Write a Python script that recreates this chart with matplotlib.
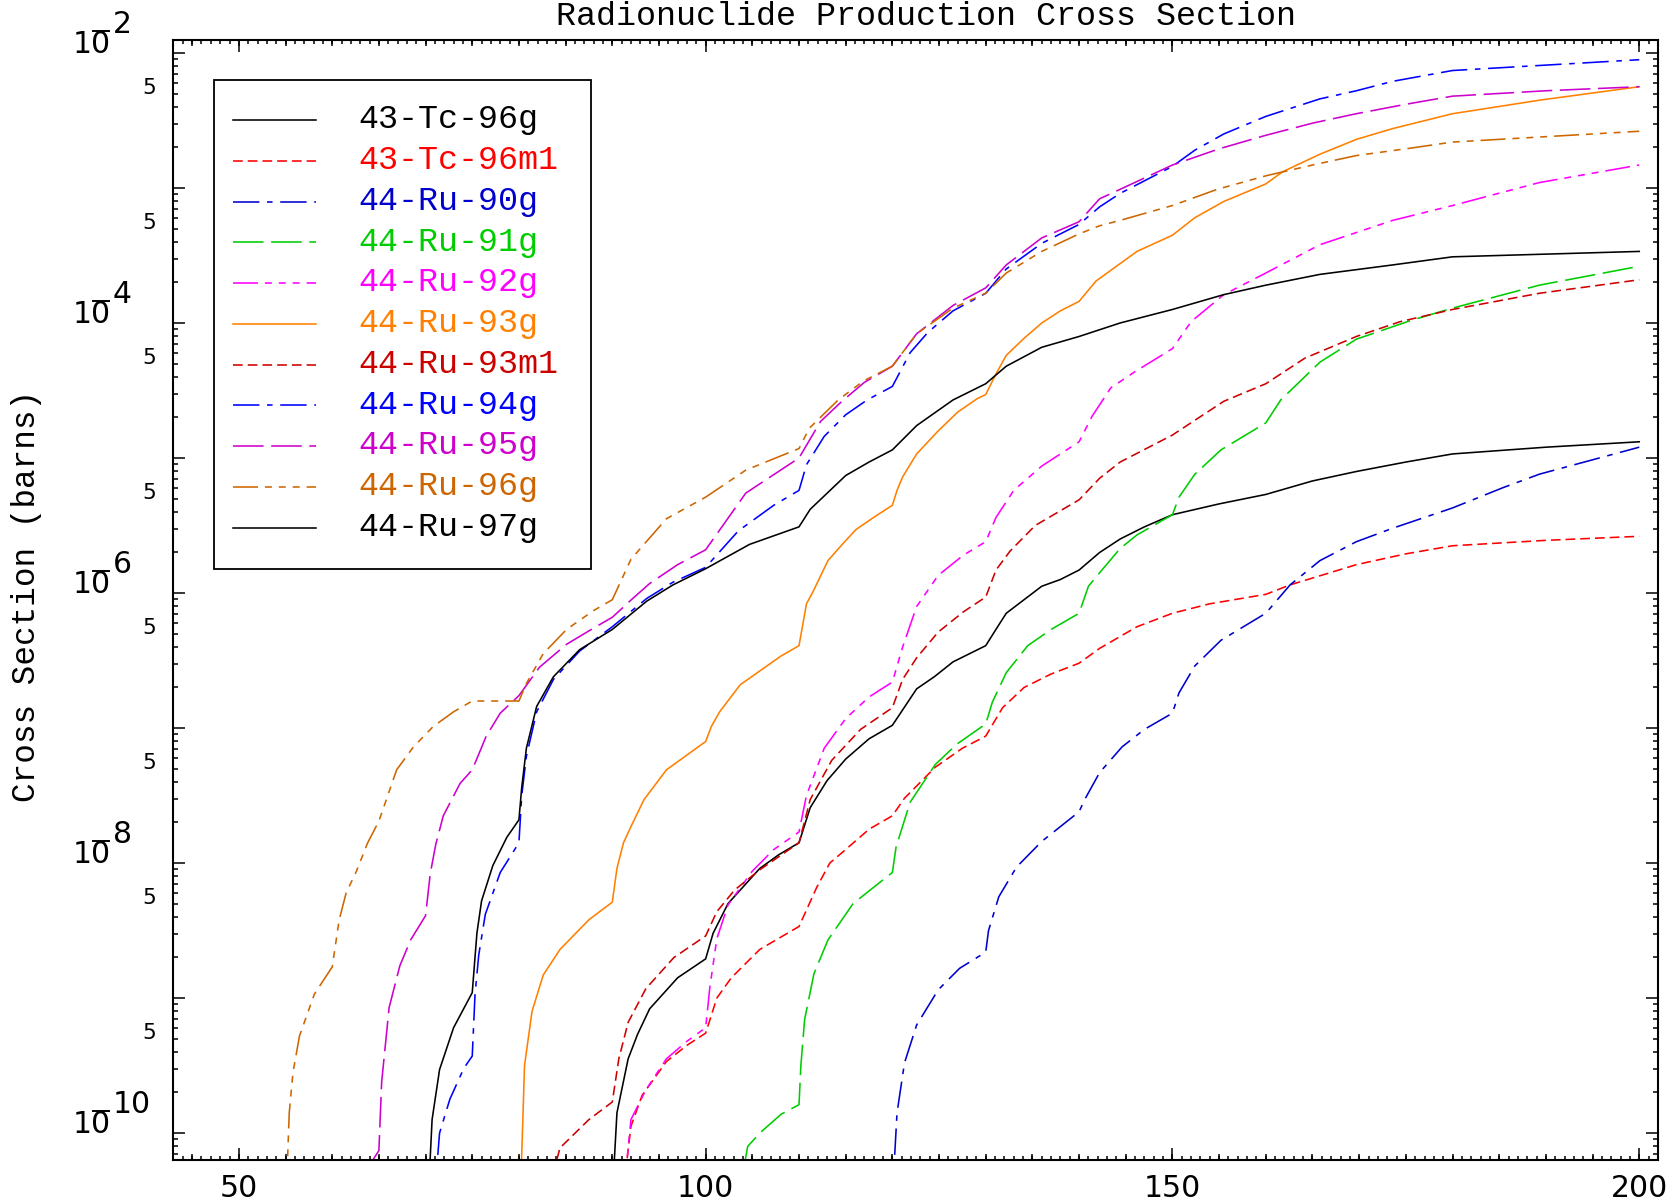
import numpy as np
import matplotlib
matplotlib.use("Agg")
import matplotlib.pyplot as plt
import matplotlib.transforms as mtransforms
from matplotlib.lines import Line2D
from matplotlib.patches import Rectangle
from matplotlib.ticker import FixedLocator, MultipleLocator, LogLocator, NullFormatter, NullLocator

plt.rcParams["lines.scale_dashes"] = False

# ----------------------------
# data: energy (MeV) and log10 of cross section (barns)
# ----------------------------
e_tc96g = [89.9, 90.5, 91.7, 92.7, 94.0, 97.0, 100.0, 100.8, 102.4, 105.8, 107.8, 110.0, 111.2, 113.0, 115.0,
           117.5, 120.0, 122.6, 124.5, 126.5, 130.0, 131.0, 132.2, 136.0, 138.0, 140.0, 142.2, 144.4, 147.0,
           150.0, 155.0, 160.0, 165.0, 169.7, 175.0, 180.0, 190.0, 200.0]
lg_tc96g = [-10.6, -9.85, -9.45, -9.27, -9.08, -8.85, -8.71, -8.52, -8.30, -8.04, -7.94, -7.85, -7.59, -7.39, -7.23,
            -7.08, -6.98, -6.71, -6.62, -6.51, -6.39, -6.28, -6.15, -5.95, -5.90, -5.83, -5.70, -5.60, -5.51,
            -5.42, -5.34, -5.27, -5.17, -5.10, -5.03, -4.97, -4.92, -4.88]

e_tc96m1 = [90.9, 92.0, 93.2, 95.8, 98.0, 100.0, 101.2, 102.75, 105.8, 110.0, 111.9, 113.3, 115.0, 117.5, 120.0,
            121.3, 124.6, 127.5, 130.0, 131.8, 134.1, 137.0, 140.0, 142.2, 146.2, 150.0, 154.0, 160.0, 162.6,
            169.7, 175.0, 180.0, 190.0, 200.0]
lg_tc96m1 = [-10.6, -9.95, -9.72, -9.47, -9.35, -9.26, -9.00, -8.85, -8.64, -8.47, -8.18, -8.00, -7.90, -7.75, -7.65,
             -7.52, -7.29, -7.15, -7.06, -6.85, -6.70, -6.60, -6.52, -6.41, -6.25, -6.15, -6.08, -6.01, -5.94,
             -5.79, -5.71, -5.65, -5.61, -5.58]

e_ru90g = [119.9, 120.5, 121.3, 122.6, 124.9, 127.2, 130.0, 130.3, 131.4, 133.3, 136.0, 140.0, 140.6, 142.2,
           144.6, 147.0, 150.0, 150.7, 152.4, 155.2, 160.0, 162.6, 165.8, 169.7, 173.6, 180.0, 185.4, 189.3, 200.0]
lg_ru90g = [-10.6, -9.85, -9.48, -9.20, -8.94, -8.78, -8.66, -8.50, -8.25, -8.03, -7.84, -7.62, -7.53, -7.33,
            -7.14, -7.01, -6.89, -6.74, -6.54, -6.35, -6.15, -5.94, -5.76, -5.62, -5.52, -5.37, -5.22, -5.12, -4.92]

e_ru91g = [103.2, 104.5, 105.8, 108.1, 110.0, 110.2, 110.6, 111.6, 113.1, 115.8, 120.0, 120.4, 121.9, 124.6,
           126.9, 130.0, 130.7, 132.2, 134.5, 137.0, 140.0, 141.0, 142.2, 144.4, 146.2, 150.0, 150.7, 152.4,
           155.2, 160.0, 161.6, 165.8, 169.7, 175.6, 180.0, 189.3, 200.0]
lg_ru91g = [-10.6, -10.1, -10.0, -9.86, -9.79, -9.50, -9.16, -8.82, -8.57, -8.30, -8.07, -7.88, -7.55, -7.27,
            -7.12, -6.97, -6.81, -6.59, -6.39, -6.27, -6.15, -5.95, -5.85, -5.67, -5.57, -5.42, -5.29, -5.12,
            -4.94, -4.74, -4.57, -4.29, -4.12, -3.98, -3.89, -3.72, -3.58]

e_ru92g = [91.0, 92.0, 93.6, 95.8, 98.0, 100.0, 100.45, 101.2, 102.4, 105.0, 107.3, 110.0, 110.8, 112.7,
           115.0, 117.5, 120.0, 121.1, 122.6, 124.9, 127.6, 130.0, 131.1, 133.0, 136.0, 140.0, 141.4, 143.4,
           146.0, 150.0, 152.0, 155.5, 160.0, 165.8, 173.6, 180.0, 189.3, 200.0]
lg_ru92g = [-10.6, -9.90, -9.68, -9.45, -9.32, -9.22, -8.92, -8.56, -8.31, -8.06, -7.90, -7.77, -7.50, -7.15,
            -6.93, -6.77, -6.66, -6.40, -6.10, -5.87, -5.72, -5.62, -5.44, -5.24, -5.06, -4.88, -4.69, -4.48,
            -4.36, -4.19, -3.99, -3.79, -3.63, -3.42, -3.24, -3.13, -2.96, -2.83]

e_ru93g = [80.1, 80.6, 81.4, 82.6, 84.4, 87.5, 90.0, 90.5, 91.2, 92.0, 93.4, 95.8, 100.0, 100.6, 101.5, 103.7,
           108.0, 110.0, 110.8, 111.5, 113.1, 114.5, 116.1, 118.0, 120.0, 120.5, 121.1, 122.6, 124.9, 127.0,
           129.1, 130.0, 131.0, 132.2, 134.0, 136.0, 138.0, 140.0, 141.8, 144.2, 146.2, 150.0, 152.4, 155.5,
           160.0, 161.8, 165.8, 169.7, 173.6, 180.0, 189.3, 200.0]
lg_ru93g = [-10.6, -9.50, -9.10, -8.83, -8.64, -8.42, -8.29, -8.04, -7.85, -7.73, -7.53, -7.31, -7.10, -6.99,
            -6.88, -6.68, -6.47, -6.39, -6.08, -5.99, -5.76, -5.65, -5.53, -5.44, -5.35, -5.24, -5.14, -4.97,
            -4.80, -4.66, -4.56, -4.53, -4.39, -4.24, -4.12, -4.00, -3.91, -3.84, -3.69, -3.57, -3.47, -3.35,
            -3.22, -3.10, -2.97, -2.88, -2.75, -2.64, -2.56, -2.45, -2.35, -2.25]

e_ru93m1 = [82.5, 84.4, 87.5, 90.0, 90.7, 91.7, 93.6, 96.6, 100.0, 101.2, 103.1, 105.8, 110.0, 111.2, 113.5,
            116.6, 120.0, 121.1, 122.6, 124.9, 127.6, 130.0, 131.1, 132.6, 135.3, 140.0, 142.2, 144.4, 150.0,
            155.5, 160.0, 164.2, 169.7, 174.4, 180.0, 189.3, 200.0]
lg_ru93m1 = [-10.6, -10.11, -9.90, -9.77, -9.45, -9.18, -8.93, -8.70, -8.54, -8.36, -8.20, -8.05, -7.85, -7.53,
             -7.24, -7.01, -6.85, -6.64, -6.48, -6.29, -6.14, -6.03, -5.83, -5.69, -5.50, -5.31, -5.15, -5.03,
             -4.83, -4.58, -4.45, -4.26, -4.10, -3.99, -3.90, -3.78, -3.68]

e_ru94g = [70.8, 71.5, 72.6, 74.1, 75.0, 75.3, 75.7, 76.4, 78.0, 80.0, 80.3, 80.8, 81.9, 83.7, 86.5, 90.0,
           93.7, 96.5, 100.0, 103.5, 107.3, 110.0, 110.8, 112.7, 115.0, 117.3, 120.0, 121.9, 123.8, 126.5,
           130.0, 132.2, 136.0, 140.0, 142.2, 144.4, 150.0, 152.4, 155.5, 160.0, 165.8, 169.7, 173.6, 180.0,
           190.0, 200.0]
lg_ru94g = [-10.6, -10.0, -9.75, -9.52, -9.43, -8.97, -8.68, -8.38, -8.07, -7.85, -7.50, -7.21, -6.88, -6.64,
            -6.43, -6.25, -6.04, -5.92, -5.81, -5.54, -5.35, -5.24, -5.05, -4.84, -4.68, -4.57, -4.47, -4.22,
            -4.07, -3.91, -3.78, -3.60, -3.41, -3.27, -3.14, -3.04, -2.84, -2.72, -2.60, -2.47, -2.34, -2.28,
            -2.21, -2.13, -2.09, -2.05]

e_ru95g = [64.1, 64.35, 65.0, 65.3, 66.1, 67.25, 68.4, 70.0, 70.5, 71.1, 71.9, 73.7, 75.0, 76.5, 78.0, 80.0,
           82.2, 85.1, 88.0, 90.0, 92.2, 94.0, 97.0, 100.0, 104.3, 110.0, 112.3, 114.6, 117.0, 120.0, 122.6,
           126.5, 130.0, 132.2, 136.0, 140.0, 142.2, 144.4, 150.0, 155.0, 160.0, 165.0, 169.7, 175.0, 180.0,
           190.0, 200.0]
lg_ru95g = [-10.6, -10.2, -10.13, -9.62, -9.07, -8.76, -8.57, -8.39, -8.08, -7.86, -7.65, -7.41, -7.31, -7.06,
            -6.89, -6.76, -6.55, -6.38, -6.26, -6.18, -6.04, -5.93, -5.79, -5.68, -5.26, -5.00, -4.73, -4.58,
            -4.44, -4.32, -4.08, -3.87, -3.74, -3.57, -3.37, -3.25, -3.08, -3.01, -2.83, -2.71, -2.61, -2.52,
            -2.45, -2.38, -2.32, -2.28, -2.25]

e_ru96g = [55.0, 55.4, 55.8, 56.5, 58.1, 60.0, 60.75, 61.5, 62.6, 63.8, 65.0, 66.9, 68.7, 70.8, 73.0, 75.0,
           80.0, 80.8, 82.6, 85.1, 88.0, 90.0, 92.0, 95.8, 100.0, 104.3, 110.0, 111.1, 114.2, 116.9, 120.0,
           122.6, 126.5, 130.0, 132.2, 136.0, 140.0, 142.2, 144.4, 150.0, 154.8, 160.0, 165.0, 169.7, 175.0,
           180.0, 190.0, 200.0]
lg_ru96g = [-10.6, -9.85, -9.55, -9.28, -8.97, -8.77, -8.42, -8.22, -8.06, -7.85, -7.69, -7.31, -7.14, -6.99,
            -6.88, -6.80, -6.80, -6.67, -6.45, -6.27, -6.13, -6.05, -5.75, -5.45, -5.29, -5.09, -4.93, -4.78,
            -4.57, -4.43, -4.32, -4.08, -3.89, -3.78, -3.63, -3.47, -3.34, -3.28, -3.24, -3.13, -3.01, -2.91,
            -2.83, -2.76, -2.71, -2.66, -2.62, -2.58]

e_ru97g = [70.2, 70.7, 71.5, 73.0, 75.0, 75.5, 76.0, 77.2, 78.7, 80.0, 80.3, 80.8, 81.9, 83.7, 86.5, 90.0,
           93.7, 96.5, 100.0, 104.7, 110.0, 111.2, 115.0, 117.5, 120.0, 122.6, 126.5, 130.0, 132.2, 136.0,
           140.0, 144.4, 150.0, 155.5, 160.0, 165.8, 173.6, 180.0, 200.0]
lg_ru97g = [-10.6, -9.90, -9.53, -9.22, -8.96, -8.52, -8.28, -8.02, -7.81, -7.68, -7.44, -7.15, -6.84, -6.62,
            -6.42, -6.27, -6.06, -5.94, -5.82, -5.64, -5.51, -5.38, -5.13, -5.03, -4.94, -4.76, -4.57, -4.45,
            -4.32, -4.18, -4.10, -4.00, -3.90, -3.79, -3.72, -3.64, -3.57, -3.51, -3.47]

labels = ["43-Tc-96g", "43-Tc-96m1", "44-Ru-90g", "44-Ru-91g", "44-Ru-92g", "44-Ru-93g",
          "44-Ru-93m1", "44-Ru-94g", "44-Ru-95g", "44-Ru-96g", "44-Ru-97g"]
energies = [e_tc96g, e_tc96m1, e_ru90g, e_ru91g, e_ru92g, e_ru93g, e_ru93m1, e_ru94g, e_ru95g, e_ru96g, e_ru97g]
logxs = [lg_tc96g, lg_tc96m1, lg_ru90g, lg_ru91g, lg_ru92g, lg_ru93g, lg_ru93m1, lg_ru94g, lg_ru95g, lg_ru96g, lg_ru97g]

# ----------------------------
# styles
# ----------------------------
solid = "-"
dashed = (0, (7.0, 3.6))
dashdot = (0, (19.0, 5.5, 4.0, 5.5))
longdash = (0, (22.0, 5.5))
dash3dot = (0, (18.0, 5.0, 5.0, 5.0, 5.0, 5.0, 5.0, 5.0))

colors = ["#000000", "#ff0000", "#0000cd", "#00cd00", "#ff00ff", "#ff8000",
          "#cd0000", "#0000ff", "#cd00cd", "#cd6600", "#000000"]
styles = [solid, dashed, dashdot, longdash, dash3dot, solid,
          dashed, dashdot, longdash, dash3dot, solid]

mono = "Liberation Mono"
sans = "DejaVu Sans"
tick_fs = 21.5

fig = plt.figure(figsize=(16.74, 12.01), dpi=100)
ax = fig.add_axes([0.1033, 0.0341, 0.8871, 0.9326])
ax.set_yscale("log")

for e, lg, c, ls in zip(energies, logxs, colors, styles):
    ax.plot(e, 10.0 ** np.array(lg), color=c, linestyle=ls, linewidth=1.15)

ax.set_xlim(42.94, 202.0)
ax.set_ylim(10 ** -10.2, 10 ** -1.904)

for sp in ax.spines.values():
    sp.set_linewidth(1.5)

# ticks
ax.xaxis.set_major_locator(FixedLocator([50, 100, 150, 200]))
ax.xaxis.set_minor_locator(MultipleLocator(1))
ax.yaxis.set_major_locator(LogLocator(base=10, numticks=30))
ax.yaxis.set_minor_locator(LogLocator(base=10, subs=np.arange(2, 10), numticks=30))
ax.yaxis.set_major_formatter(NullFormatter())
ax.yaxis.set_minor_formatter(NullFormatter())
ax.tick_params(which="both", direction="in", top=True, right=True, width=1.1)
ax.tick_params(axis="x", which="major", length=8.6, labelsize=tick_fs, pad=10.0)
ax.tick_params(axis="x", which="minor", length=2.9)
ax.tick_params(axis="y", which="major", length=8.6)
ax.tick_params(axis="y", which="minor", length=3.8)
for lab in ax.get_xticklabels():
    lab.set_family(sans)

# medium ticks every 5 MeV
for side in ("bottom", "top"):
    sec = ax.secondary_xaxis(side)
    sec.xaxis.set_major_locator(MultipleLocator(5))
    sec.xaxis.set_minor_locator(NullLocator())
    sec.tick_params(axis="x", which="major", direction="in", length=4.4, width=1.1,
                    labelbottom=False, labeltop=False)
    sec.spines[side].set_visible(False)

# y tick labels in the old 10^-n style (bar drawn over the 0)
ytr = ax.get_yaxis_transform()
bar_tr = mtransforms.offset_copy(ytr, fig=fig, x=0, y=22, units="dots")
for ex in [-2, -4, -6, -8, -10]:
    yv = 10.0 ** ex
    ax.annotate("10", xy=(0, yv), xycoords=ytr, xytext=(-62, 0), textcoords="offset pixels",
                ha="right", va="baseline", fontsize=tick_fs, family=sans)
    ax.annotate(str(-ex), xy=(0, yv), xycoords=ytr, xytext=(-60, 20), textcoords="offset pixels",
                ha="left", va="baseline", fontsize=tick_fs, family=sans)
    ax.add_line(Line2D([-0.0535, -0.0431], [yv, yv], transform=bar_tr, color="black",
                       linewidth=1.4, clip_on=False))
for ex in range(-3, -11, -1):
    ax.annotate("5", xy=(0, 5 * 10.0 ** ex), xycoords=ytr, xytext=(-17, 0), textcoords="offset pixels",
                ha="right", va="baseline", fontsize=15.5, family=sans)

# legend box
ax.add_patch(Rectangle((0.0276, 0.5277), 0.2539, 0.4366, transform=ax.transAxes,
                       fill=False, edgecolor="black", linewidth=1.3, zorder=5))
for i, (lab, c, ls) in enumerate(zip(labels, colors, styles)):
    yy = 0.9286 - i * 0.0364
    ax.add_line(Line2D([0.0404, 0.0963], [yy, yy], transform=ax.transAxes,
                       color=c, linestyle=ls, linewidth=1.15, zorder=5))
    ax.text(0.1246, yy - 0.0074, lab, transform=ax.transAxes, color=c,
            fontsize=24, family=mono, va="baseline", ha="left", zorder=5)

fig.text(926 / 1674, 1 - 25 / 1201, "Radionuclide Production Cross Section",
         ha="center", va="baseline", fontsize=24, family=mono)
fig.text(27 / 1674, 1 - 596 / 1201, "Cross Section (barns)", rotation=90,
         ha="center", va="center", fontsize=23.5, family=mono)

fig.savefig("out.png", dpi=100)
